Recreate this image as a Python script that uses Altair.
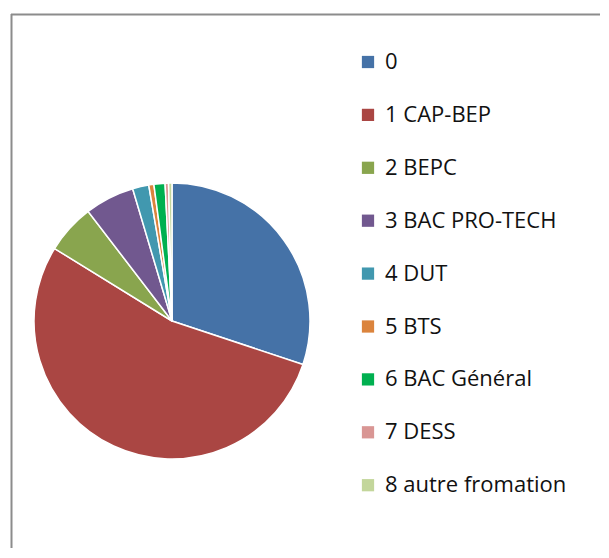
import altair as alt
import pandas as pd

categories = ["0", "1 CAP-BEP", "2 BEPC", "3 BAC PRO-TECH", "4 DUT", "5 BTS",
              "6 BAC Général", "7 DESS", "8 autre fromation"]
values = [30.1, 53.7, 5.8, 5.8, 1.9, 0.6, 1.3, 0.4, 0.4]
colors = ["#4572A7", "#AA4643", "#89A54E", "#71588F", "#4198AF", "#DB843D",
          "#00B050", "#D99694", "#C3D69B"]

df = pd.DataFrame({"cat": categories, "val": values, "rank": list(range(len(categories)))})

pie = alt.Chart(df).mark_arc(outerRadius=138, stroke="white", strokeWidth=1.5).encode(
    theta=alt.Theta("val:Q", stack=True),
    order=alt.Order("rank:Q"),
    color=alt.Color(
        "cat:N",
        scale=alt.Scale(domain=categories, range=colors),
        sort=categories,
        legend=alt.Legend(
            title=None, orient="none", legendX=349, legendY=43,
            symbolType="square", symbolSize=150, symbolStrokeWidth=0,
            labelFont="Open Sans", labelFontSize=22, labelColor="#111111",
            rowPadding=30.9, labelOffset=6, labelLimit=400,
        ),
    ),
    x=alt.value(164),
    y=alt.value(313),
)

frame_df = pd.DataFrame({"k": [0]})
top = alt.Chart(frame_df).mark_rule(color="#8c8c8c", strokeWidth=2).encode(
    x=alt.value(3), x2=alt.value(620), y=alt.value(6.5)
)
left = alt.Chart(frame_df).mark_rule(color="#8c8c8c", strokeWidth=2).encode(
    x=alt.value(3.5), y=alt.value(6), y2=alt.value(600)
)

chart = alt.layer(top, left, pie).properties(
    width=592, height=540, padding=0, autosize=alt.AutoSizeParams(type="none")
).configure_view(stroke=None)

chart.save("out.html", embed_options={"renderer": "svg", "actions": False})
